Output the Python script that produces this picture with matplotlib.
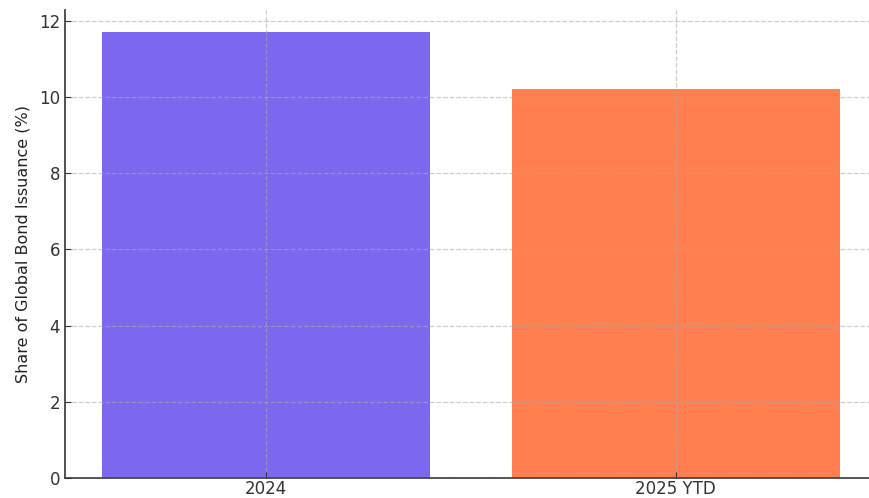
import matplotlib.pyplot as plt

# Share of global bond issuance, full year vs year to date
periods = ['2024', '2025 YTD']
share_pct = [11.7, 10.2]
bar_colors = ['#7B68EE', '#FF7F50']

plt.rcParams['font.family'] = 'DejaVu Sans'

fig = plt.figure(figsize=(8.7, 4.98), dpi=100)
ax = fig.add_axes([0.0747, 0.040, 0.933, 0.94])

ax.bar(periods, share_pct, color=bar_colors, width=0.8)
ax.set_ylabel('Share of Global Bond Issuance (%)', fontsize=11.5, color='#222222', labelpad=6)

ax.grid(True, linestyle='--', color='#aaaaaa', alpha=0.6, linewidth=0.9)
ax.set_axisbelow(False)

for side in ['top', 'right']:
    ax.spines[side].set_visible(False)
for side in ['left', 'bottom']:
    ax.spines[side].set_color('#444444')
    ax.spines[side].set_linewidth(1.3)

ax.tick_params(axis='both', direction='in', labelsize=12, colors='#333333', length=4)
ax.tick_params(axis='x', pad=1.5)

fig.savefig('out.png', dpi=100)
